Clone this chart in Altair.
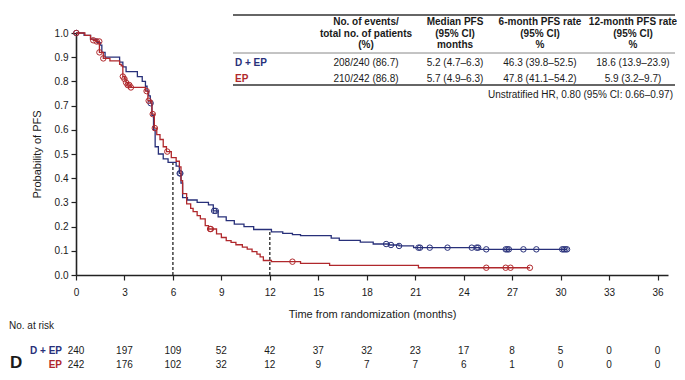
import altair as alt
import pandas as pd

# ---------------- data ----------------
arms = ["D + EP", "EP"]
BLUE = "#28307a"
RED = "#b0282c"

# Kaplan-Meier step points (time in months, survival probability)
dep_t = [0, 0.5, 0.9, 1.3, 1.5, 1.6, 1.8, 2.7, 2.9, 3.1, 3.8, 4.1, 4.3, 4.4, 4.5, 4.6, 4.7, 4.8, 4.9, 5.1,
         5.4, 5.7, 6.2, 6.4, 6.5, 6.6, 6.9, 7.5, 8.2, 8.5, 8.8, 9.3, 9.8, 10.4, 11.0, 12.1, 12.8, 13.4, 13.9, 15.8,
         16.3, 17.6, 18.4, 19.4, 20.0, 20.9, 25.0, 30.4]
dep_s = [1.0, 0.99, 0.975, 0.96, 0.95, 0.92, 0.90, 0.88, 0.86, 0.84, 0.82, 0.80, 0.78, 0.76, 0.74, 0.71, 0.66, 0.60, 0.53, 0.50,
         0.48, 0.465, 0.45, 0.42, 0.38, 0.32, 0.31, 0.30, 0.29, 0.265, 0.24, 0.225, 0.21, 0.20, 0.188, 0.178, 0.172, 0.167, 0.163, 0.152,
         0.143, 0.136, 0.128, 0.124, 0.12, 0.113, 0.106, 0.106]

ep_t = [0, 0.55, 0.9, 1.07, 1.28, 1.45, 1.69, 2.1, 2.7, 2.8, 2.9, 3.0, 3.1, 3.2, 3.35, 4.3, 4.45, 4.7, 4.85, 5.0,
        5.2, 5.4, 5.6, 5.9, 6.2, 6.4, 6.5, 6.6, 6.85, 7.1, 7.25, 7.5, 7.7, 8.0, 8.2, 8.7, 9.0, 9.3, 9.6, 9.9,
        10.3, 10.6, 10.9, 11.2, 11.4, 11.6, 12.1, 13.9, 15.7, 21.2, 28.1]
ep_s = [1.0, 0.99, 0.975, 0.97, 0.965, 0.92, 0.895, 0.885, 0.87, 0.864, 0.82, 0.81, 0.795, 0.785, 0.775, 0.76, 0.72, 0.665, 0.607, 0.58,
        0.56, 0.53, 0.51, 0.485, 0.47, 0.447, 0.39, 0.336, 0.294, 0.275, 0.262, 0.245, 0.232, 0.204, 0.19, 0.17, 0.155, 0.142, 0.135, 0.125,
        0.115, 0.107, 0.097, 0.086, 0.075, 0.06, 0.055, 0.048, 0.040, 0.030, 0.030]

# censoring times
dep_cens = [0.02, 4.62, 6.42, 6.46, 8.55, 8.65, 19.2, 19.5, 20.0, 21.2, 21.3, 21.9, 23.0, 24.5, 24.8, 24.9,
            25.4, 26.6, 26.7, 26.8, 27.7, 28.5, 30.1, 30.2, 30.3, 30.4]
ep_cens = [0.02, 1.07, 1.28, 1.44, 1.45, 1.69, 2.9, 3.0, 3.1, 3.2, 3.3, 3.4, 4.37, 4.5, 4.75, 4.88, 5.65,
           8.3, 8.35, 13.4, 25.4, 26.6, 26.9, 28.1]

# landmark (6- and 12-month D + EP PFS rates)
land_t = [6, 12]
land_s = [0.463, 0.186]

# risk table
risk_t = [0, 3, 6, 9, 12, 15, 18, 21, 24, 27, 30, 33, 36]
risk_dep = [240, 197, 109, 52, 42, 37, 32, 23, 17, 8, 5, 0, 0]
risk_ep = [242, 176, 102, 32, 12, 9, 7, 7, 6, 1, 0, 0, 0]

# summary table
headers = ["No. of events/\ntotal no. of patients\n(%)", "Median PFS\n(95% CI)\nmonths",
           "6-month PFS rate\n(95% CI)\n%", "12-month PFS rate\n(95% CI)\n%"]
row_dep = ["208/240 (86.7)", "5.2 (4.7–6.3)", "46.3 (39.8–52.5)", "18.6 (13.9–23.9)"]
row_ep = ["210/242 (86.8)", "5.7 (4.9–6.3)", "47.8 (41.1–54.2)", "5.9 (3.2–9.7)"]
hr_text = "Unstratified HR, 0.80 (95% CI: 0.66–0.97)"

# ---------------- layout ----------------
FONT = "Liberation Sans, Arial, sans-serif"
W, H = 592, 242
XMAX = 36.65
xs = alt.Scale(domain=[0, XMAX], nice=False, zero=False)
ys = alt.Scale(domain=[0, 1], nice=False)
TXT = "#1a1a1a"


def step_val(ts, ss, t):
    v = ss[0]
    for ti, si in zip(ts, ss):
        if ti <= t:
            v = si
    return v


def curve_df(ts, ss):
    return pd.DataFrame({"t": ts, "s": ss})


def cens_df(ts, ss, cs):
    return pd.DataFrame({"t": cs, "s": [step_val(ts, ss, c) for c in cs]})


xaxis = alt.Axis(values=risk_t, title="Time from randomization (months)", labelFlush=False,
                 tickSize=5, labelPadding=7, titleY=39, titleBaseline="middle",
                 titleFontWeight="normal", titleFontSize=11)
yaxis = alt.Axis(values=[i / 10 for i in range(11)], format=".1f", title="Probability of PFS",
                 labelFlush=False, tickSize=5, labelPadding=3, titleX=-39, titleY=H / 2,
                 titleAlign="center", titleBaseline="middle", titleAngle=-90,
                 titleFontWeight="normal", titleFontSize=11)

X = lambda f="t:Q": alt.X(f, scale=xs, axis=xaxis)
Y = lambda f="s:Q": alt.Y(f, scale=ys, axis=yaxis)

land = pd.DataFrame({"t": land_t, "lo": [0.0, 0.0], "hi": land_s})
dashes = alt.Chart(land).mark_rule(strokeDash=[3, 2], color="#111", strokeWidth=1.2).encode(
    x=X(), y=Y("lo:Q"), y2="hi:Q",
)


def km_layer(ts, ss, color):
    return alt.Chart(curve_df(ts, ss)).mark_line(
        interpolate="step-after", color=color, strokeWidth=1.3
    ).encode(x=X(), y=Y())


def cens_layer(ts, ss, cs, color):
    return alt.Chart(cens_df(ts, ss, cs)).mark_point(
        shape="circle", filled=False, size=30, strokeWidth=1, color=color, opacity=1
    ).encode(x=X(), y=Y())


one = pd.DataFrame({"k": [0]})


def txt(s, x, y, align="center", baseline="middle", weight="normal", color=TXT, size=10, font=FONT, lh=11.5):
    return alt.Chart(one).mark_text(
        text=s, align=align, baseline=baseline, fontWeight=weight, color=color,
        fontSize=size, font=font, lineBreak="\n", lineHeight=lh
    ).encode(x=alt.value(x), y=alt.value(y))


def rule(x1, x2, y, width, color):
    return alt.Chart(one).mark_rule(strokeWidth=width, color=color).encode(
        x=alt.value(x1), x2=alt.value(x2), y=alt.value(y))


layers = [dashes,
          km_layer(dep_t, dep_s, BLUE), cens_layer(dep_t, dep_s, dep_cens, BLUE),
          km_layer(ep_t, ep_s, RED), cens_layer(ep_t, ep_s, ep_cens, RED)]

# summary table (positions relative to plot origin)
col_x = [290, 379, 464, 557]
layers += [rule(157, 599, -18, 2, "#666"), rule(157, 599, 20, 1, "#888"), rule(157, 599, 52, 2, "#666")]
for cx, h in zip(col_x, headers):
    layers.append(txt(h, cx, -16, baseline="top", weight="bold"))
layers.append(txt("D + EP", 159, 29.5, align="left", weight="bold", color=BLUE))
layers.append(txt("EP", 159, 45.5, align="left", weight="bold", color=RED))
for cx, a, b in zip(col_x, row_dep, row_ep):
    layers.append(txt(a, cx, 29.5))
    layers.append(txt(b, cx, 45.5))
layers.append(txt(hr_text, 597, 62, align="right"))

# risk table
risk = pd.DataFrame({"t": risk_t + risk_t,
                     "n": risk_dep + risk_ep,
                     "arm": [arms[0]] * len(risk_t) + [arms[1]] * len(risk_t)})
for arm, yy in zip(arms, [318, 332]):
    layers.append(
        alt.Chart(risk[risk["arm"] == arm]).mark_text(font=FONT, fontSize=10, color=TXT, baseline="middle").encode(
            x=X(), y=alt.value(yy), text="n:Q")
    )
layers.append(txt("No. at risk", -67, 293, align="left"))
layers.append(txt("D + EP", -14, 318, align="right", weight="bold", color=BLUE))
layers.append(txt("EP", -14, 332, align="right", weight="bold", color=RED))
layers.append(txt("D", -66, 335, align="left", baseline="alphabetic", weight="bold", size=17))

chart = alt.layer(*layers).properties(
    width=W, height=H,
    autosize=alt.AutoSizeParams(type="none"),
    padding={"left": 68, "top": 25, "right": 9, "bottom": 97},
).configure_view(stroke=None).configure_axis(
    grid=False, domainColor="#222", domainWidth=1.6, tickColor="#222", tickWidth=1.2,
    labelFont=FONT, labelFontSize=10, labelColor=TXT, titleFont=FONT, titleColor=TXT,
)

chart.save("out.html", embed_options={"renderer": "svg", "actions": False})
